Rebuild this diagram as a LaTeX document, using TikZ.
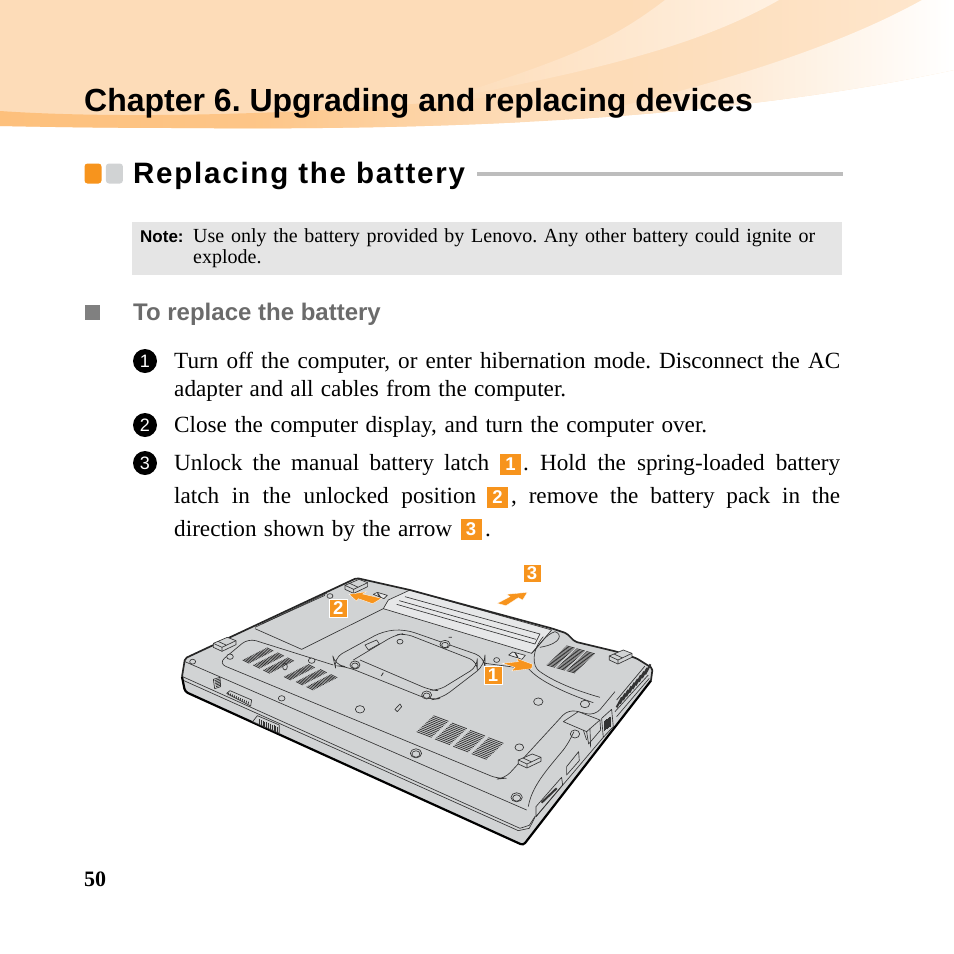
\documentclass[tikz,border=0pt]{standalone}
\usepackage{fontspec}
\usetikzlibrary{positioning}
\setmainfont{Liberation Serif}
\setsansfont{Liberation Sans}
\frenchspacing
\definecolor{peach}{HTML}{FDDCB8}
\definecolor{peachlight}{HTML}{FFF1E2}
\definecolor{peachdark}{HTML}{FDC07C}
\definecolor{tagorange}{HTML}{F7941D}
\definecolor{bodygray}{HTML}{D1D3D4}
\definecolor{batterygray}{HTML}{E6E7E8}
\definecolor{headgray}{HTML}{6B6B6B}
\definecolor{rulegray}{HTML}{BDBDBD}
\definecolor{inkgray}{HTML}{333333}
\newcommand{\bodyfont}{\fontsize{23.2}{24}\selectfont}
\newcommand{\notefont}{\fontsize{20}{20}\selectfont}
\newcommand{\fillline}[2]{\makebox[#1pt][s]{#2}}
\newcommand{\ventstack}[7]{%
    \foreach \i in {0,...,#7} {
        \draw[ventline] ({#1+\i*#3},{#2+\i*#4}) -- ++(#5,#6);
    }}
\newcommand{\padfoot}[2]{%
    \begin{scope}[shift={(#1,#2)}]
        \draw[thinline,fill=bodygray] (0,18) -- (42,0) -- (68,10) -- (68,22) -- (26,42) -- (0,30) -- cycle;
        \draw[thinline] (0,18) -- (26,30) -- (68,10) (26,30) -- (26,42) (14,12) -- (40,24);
    \end{scope}}
\tikzset{
    textline/.style={anchor=base west,inner sep=0pt,font=\bodyfont},
    noteline/.style={anchor=base west,inner sep=0pt,font=\notefont},
    tagbox/.style={fill=tagorange,text=white,inner sep=0pt,minimum size=21pt,font=\sffamily\bfseries\fontsize{18.5}{18}\selectfont},
    photag/.style={tagbox,draw=white,line width=0.7pt,minimum size=18pt},
    numdot/.style={circle,fill=black,text=white,inner sep=0pt,minimum size=24pt,font=\sffamily\fontsize{18}{18}\selectfont},
    thinline/.style={draw=inkgray,line width=0.65pt,line join=round},
    ventline/.style={draw=inkgray,line width=0.75pt},
    edgeline/.style={draw=black!85,line width=1.7pt,line join=round},
    movearrow/.style={fill=tagorange,draw=white,line width=0.3pt},
    screw/.style={thinline,fill=bodygray}
}
\begin{document}
\begin{tikzpicture}[x=1pt,y=-1pt]
    \useasboundingbox (0,0) rectangle (954,954);
    % page swoosh
    \begin{scope}
        \clip (0,0) -- (954,0) -- (954,70) .. controls (700,125) and (400,130) .. (180,128) .. controls (110,128) and (50,127) .. (0,126) -- cycle;
        \shade[left color=peach,right color=peachlight,middle color=peach] (0,0) rectangle (1250,135);
        \shade[left color=peach,right color=peachlight] (665,0) .. controls (610,42) and (570,58) .. (440,100) .. controls (600,70) and (700,45) .. (779,0) -- cycle;
        \shade[left color=peach,right color=white] (922,0) .. controls (850,40) and (740,80) .. (570,118) -- (954,135) -- (954,0) -- cycle;
        \shade[left color=peachdark,right color=peach,middle color=peachdark!80!peach] (0,111) .. controls (100,118) and (300,118) .. (520,94) -- (520,135) -- (0,135) -- cycle;
    \end{scope}

    \node[anchor=base west,inner sep=0pt,font=\sffamily\bfseries\fontsize{32}{32}\selectfont] (chaptitle) at (84,111) {Chapter 6. Upgrading and replacing devices};

    \node[fill=tagorange,rounded corners=3pt,minimum width=17pt,minimum height=20pt,inner sep=0pt] (dotone) at (93,173.5) {};
    \node[fill=bodygray,rounded corners=3pt,minimum width=17pt,minimum height=20pt,inner sep=0pt,right=4pt of dotone] (dottwo) {};
    \node[anchor=base west,inner sep=0pt,font=\sffamily\bfseries\fontsize{29.5}{30}\selectfont\addfontfeatures{LetterSpace=6}] (sectitle) at (133,183) {Replacing the battery};
    \coordinate (ruleend) at (843,174);
    \coordinate (rulestart) at (477,174);
    \draw[rulegray,line width=3.5pt] (rulestart) -- (ruleend);

    % note box
    \node[fill=gray!20,minimum width=710pt,minimum height=53pt,inner sep=0pt,anchor=north west] (notebox) at (132,222) {};
    \node[noteline,font=\sffamily\bfseries\fontsize{17}{18}\selectfont] (notehead) at (140,242) {Note:};
    \node[noteline] (notea) at (193,242) {\fillline{622}{Use only the battery provided by Lenovo. Any other battery could ignite or}};
    \node[noteline] (noteb) at (193,263) {\fillline{71}{explode.}};

    \node[fill=gray,minimum size=15pt,inner sep=0pt] (headmark) at (92.5,312) {};
    \node[anchor=base west,inner sep=0pt,text=headgray,font=\sffamily\bfseries\fontsize{24}{25}\selectfont] (headtext) at (133,320.5) {To replace the battery};

    % steps
    \node[numdot] (numa) at (145,361) {1};
    \node[numdot] (numb) at (145,425) {2};
    \node[numdot] (numc) at (145,463) {3};
    \node[textline] (linea) at (174,368) {\fillline{666}{Turn off the computer, or enter hibernation mode. Disconnect the AC}};
    \node[textline] (lineb) at (174,396) {\fillline{392}{adapter and all cables from the computer.}};
    \node[textline] (linec) at (174,432) {\fillline{533}{Close the computer display, and turn the computer over.}};
    \node[textline] (lined) at (174,470) {\fillline{315}{Unlock the manual battery latch}};
    \node[tagbox] (taga) at (510.5,464.5) {1};
    \node[textline] (linee) at (523,470) {\fillline{317}{. Hold the spring-loaded battery}};
    \node[textline] (linef) at (174,503) {\fillline{302}{latch in the unlocked position}};
    \node[tagbox] (tagb) at (497.5,497.5) {2};
    \node[textline] (lineg) at (511,503) {\fillline{329}{, remove the battery pack in the}};
    \node[textline] (lineh) at (174,536) {\fillline{278}{direction shown by the arrow}};
    \node[tagbox] (tagc) at (471,529.5) {3};
    \node[textline] (linei) at (485,536) {.};

    \node[anchor=base west,inner sep=0pt,font=\bfseries\fontsize{22}{22}\selectfont] (pagenum) at (84,886) {50};

    % laptop, in thirds of a pixel
    \begin{scope}[shift={(170,550)},x=0.3333pt,y=-0.3333pt]
        \fill[bodygray] (45,325) -- (560,84) -- (720,120) -- (1145,235) -- (1190,250) -- (1215,275) -- (1340,305) -- (1400,325) -- (1448,355) -- (1443,392) -- (1060,886) -- (45,425) -- (36,380) -- cycle;

        % battery
        \draw[thinline,fill=batterygray] (640,176) -- (655,150) -- (720,120) -- (1145,240) -- (1115,275) -- (1085,310) -- cycle;
        \draw[thinline] (705,140) -- (1110,252) -- (1095,282) -- (680,163);
        \draw[thinline] (688,152) -- (1098,268);
        \draw[thinline] (1085,310) .. controls (1115,280) and (1125,255) .. (1155,245) .. controls (1175,250) and (1180,280) .. (1110,292);

        % door and panel lines
        \draw[thinline] (255,236) -- (395,298) -- (640,176);
        \draw[thinline] (255,232) -- (470,130);
        \draw[thinline] (275,222) -- (465,136);
        \draw[thinline,rounded corners=8pt] (490,345) -- (235,265) -- (145,340) -- (985,687) -- (1005,685) -- (1195,478) -- (1275,497) -- (1335,425);
        \draw[thinline] (945,340) -- (1075,357);
        \draw[thinline] (1120,260) .. controls (1085,300) and (1085,350) .. (1110,365) .. controls (1160,400) and (1230,425) .. (1290,442);
        \draw[thinline] (1075,355) .. controls (1100,385) and (1160,420) .. (1270,458);

        % memory door
        \draw[thinline,rounded corners=10pt] (490,325) -- (640,243) -- (705,238) -- (945,322) -- (945,345) -- (815,445) -- (780,450) -- (530,350) -- (495,347) -- cycle;
        \draw[thinline,rounded corners=8pt] (550,330) -- (675,255) -- (705,250) -- (922,335) -- (922,350) -- (805,422) -- (780,420) -- (570,330);
        \draw[thinline] (585,285) -- (620,270) -- (628,282) -- (595,300) -- cycle;

        % long lines
        \draw[thinline] (45,335) -- (1070,780);
        \draw[thinline] (38,380) -- (1050,835) -- (1078,826) -- (1096,798);
        \draw[thinline] (42,392) -- (1045,842) -- (1078,835) -- (1096,800);
        \draw[thinline] (1075,770) .. controls (1085,710) and (1130,660) .. (1180,600) .. controls (1195,580) and (1205,560) .. (1212,545);
        \draw[thinline] (1098,800) -- (1300,562) (1340,500) -- (1438,385);

        % body edge
        \draw[edgeline,rounded corners=2pt] (36,380) -- (45,325) -- (560,84) -- (720,120) -- (1145,235) -- (1190,250) -- (1215,275) -- (1340,305) -- (1400,325) -- (1448,355) -- (1443,392);
        \draw[black,line width=2.2pt,rounded corners=3pt] (36,380) -- (45,425) -- (1060,886) -- (1443,392);

        % screws
        \foreach \x/\y/\r in {68/335/9,180/320/10,425/332/10,335/445/10,570/478/14,738/610/17,1040/742/17,1048/592/13,1105/455/14,1245/462/14,980/330/9,825/283/15,555/345/15,770/435/15,690/275/9,480/138/9} {
            \draw[screw] (\x,\y) ellipse ({\r} and {0.8*\r});
        }
        \foreach \x/\y/\r in {738/612/12,1040/744/12,770/437/10,555/347/10,825/285/10} {
            \draw[thinline] (\x,\y) ellipse ({\r} and {0.8*\r});
        }
        \draw[thinline] (1215,552) ellipse (14 and 12);

        % vents
        \foreach \a/\b in {218/330,250/345,280/360,342/380,378/395,410/410} {
            \ventstack{\a}{\b}{4.5}{-2.3}{20}{10}{16}
        }
        \foreach \a in {0,1,2,3} {
            \ventstack{740+55*\a}{545+22*\a}{4.2}{-4}{45}{17}{12}
        }
        \foreach \a in {0,1,2} {
            \ventstack{1130+30*\a}{345+8.5*\a}{3.3}{-3.2}{25}{7}{18}
        }
        \foreach \a in {0,1,...,9} {
            \draw[inkgray,line width=2pt] ({1340+\a*9.5},{472-\a*11}) -- ++(16,-30);
        }
        \draw[thinline] (1335,485) -- (1435,375) (1340,450) -- (1425,348);

        % feet
        \padfoot{130}{262}
        \padfoot{525}{88}
        \padfoot{1318}{300}
        \padfoot{1045}{612}

        % ports on the sides
        \draw[thinline,fill=bodygray] (1180,515) -- (1225,485) -- (1290,510) -- (1250,545) -- cycle;
        \draw[thinline] (1250,545) -- (1256,582) -- (1292,540) -- (1290,510);
        \draw[thinline] (1260,535) -- (1262,592) (1240,540) -- (1250,570);
        \draw[thinline] (1295,505) -- (1325,478) -- (1330,530) -- (1300,562) -- cycle;
        \ventstack{1303}{512}{3}{-2}{0}{30}{6}
        \draw[thinline] (1190,650) -- (1226,605) -- (1228,632) -- (1190,675) -- cycle;
        \draw[thinline] (1098,770) -- (1175,682) -- (1178,705) -- (1098,800) -- cycle;
        \draw[inkgray,line width=2pt] (1115,758) -- (1160,715);
        \draw[thinline] (130,388) -- (150,382) -- (152,410) -- (134,416) -- cycle;
        \ventstack{134}{392}{1}{4.5}{15}{-5}{4}
        \draw[thinline] (170,430) -- (180,422) -- (245,450) -- (242,468) -- cycle;
        \ventstack{176}{428}{6}{2.7}{-2}{8}{10}
        \draw[thinline,fill=bodygray] (248,515) -- (262,497) -- (328,525) -- (328,550) -- cycle;
        \ventstack{268}{508}{5.5}{2.3}{0}{18}{10}
        \draw[thinline] (675,478) -- (690,462) -- (695,470) -- (682,485) -- cycle;
        \draw[inkgray,line width=0.8pt] (634,378) -- (640,368) (836,262) -- (846,262);
        \draw[thinline] (345,350) ellipse (7 and 10);

        % latches beside the battery
        \draw[thinline,fill=batterygray] (610,133) -- (622,127) -- (652,136) -- (642,146) -- cycle;
        \draw[thinline,fill=batterygray] (1016,315) -- (1028,306) -- (1066,316) -- (1056,328) -- cycle;
        \draw[inkgray,line width=1.2pt] (623,130) -- (632,143) (1036,309) -- (1044,323);

        % arrows and tags
        \fill[movearrow] (997,340) -- (1045,335) -- (1040,325) -- (1088,343) -- (1085,356) -- (1025,363) -- (1035,352) -- cycle;
        \fill[movearrow] (537,133) -- (590,125) -- (578,132) -- (635,145) -- (608,161) -- (565,146) -- (560,153) -- cycle;
        \fill[movearrow] (982,160) -- (1020,140) -- (1010,133) -- (1072,127) -- (1058,150) -- (1045,143) -- (1008,167) -- cycle;
        \node[photag] (photoa) at (969,376) {1};
        \node[photag] (photob) at (505,174) {2};
        \node[photag] (photoc) at (1086,70) {3};
    \end{scope}
\end{tikzpicture}
\end{document}
